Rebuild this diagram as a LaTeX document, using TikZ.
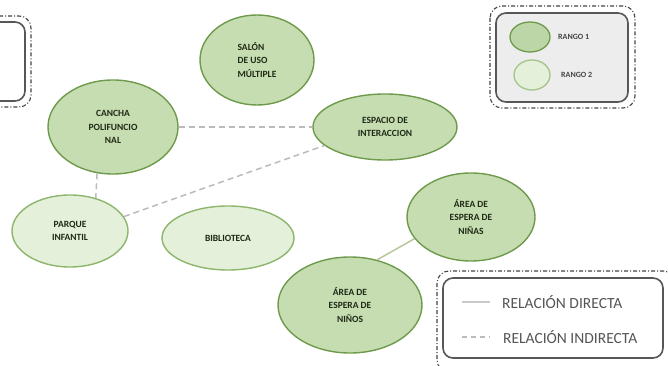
\documentclass[tikz,border=0pt]{standalone}
\usepackage{fontspec}
\usetikzlibrary{shapes.geometric}
\setmainfont{Carlito}
\definecolor{rIfill}{HTML}{C6DDB1}
\definecolor{rIdraw}{HTML}{6E9A4C}
\definecolor{rIIfill}{HTML}{E4F0D9}
\definecolor{rIIdraw}{HTML}{8DB56C}
\definecolor{txt}{HTML}{1F2A16}
\definecolor{relgray}{HTML}{BBBBBB}
\definecolor{dirline}{HTML}{B9C79C}
\definecolor{framec}{HTML}{444444}
\definecolor{legfill}{HTML}{EDEDED}
\definecolor{legtxt}{HTML}{555555}
\tikzset{
  zone/.style={ellipse, line width=1.4pt, text=txt, align=center,
    font=\bfseries\fontsize{9.5}{13.5}\selectfont, inner sep=0pt},
  rI/.style={zone, draw=rIdraw, fill=rIfill},
  rII/.style={zone, draw=rIIdraw, fill=rIIfill},
  indirect/.style={draw=relgray, line width=1.5pt, dash pattern=on 6pt off 4pt},
  direct/.style={draw=dirline, line width=1.5pt},
  legdirect/.style={draw=relgray!80, line width=1.2pt},
  outerframe/.style={draw=framec, line width=1.1pt, dash pattern=on 4pt off 2pt on 1pt off 2pt, rounded corners=12pt},
  innerframe/.style={draw=framec!90, line width=1.6pt, rounded corners=10pt},
  legtext/.style={anchor=west, text=legtxt, font=\fontsize{15.5}{17}\selectfont, inner sep=0pt},
  rangtext/.style={anchor=west, text=legtxt!80!black, font=\bfseries\fontsize{8}{10}\selectfont, inner sep=0pt}
}
\begin{document}
\begin{tikzpicture}[x=1pt,y=-1pt]
\useasboundingbox (0,0) rectangle (668,366);
\clip (0,0) rectangle (668,366);
% partial frame on the left
\draw[outerframe] (-30,16) rectangle (31,107);
\draw[innerframe, fill=white] (-30,22) rectangle (25,101);
% zones
\node[rI, minimum width=130pt, minimum height=94pt] (cancha) at (113,127) {CANCHA\\POLIFUNCIO\\NAL};
\node[rI, minimum width=114pt, minimum height=90pt, align=left] (salon) at (257,60) {SALÓN\\DE USO\\MÚLTIPLE};
\node[rI, minimum width=144pt, minimum height=66pt] (esp) at (385,127) {ESPACIO DE\\INTERACCION};
\node[rII, minimum width=116pt, minimum height=72pt] (parque) at (70,231) {PARQUE\\INFANTIL};
\node[rII, minimum width=132pt, minimum height=64pt] (biblio) at (228,238) {BIBLIOTECA};
\node[rI, minimum width=128pt, minimum height=88pt] (ninas) at (471,217) {ÁREA DE\\ESPERA DE\\NIÑAS};
\node[rI, minimum width=144pt, minimum height=96pt] (ninos) at (350,305) {ÁREA DE\\ESPERA DE\\NIÑOS};
% relations
\draw[indirect] (cancha.east) -- (esp.west);
\draw[indirect] (parque.15) -- (esp.197);
\draw[indirect] (cancha.251) -- (parque.52);
\draw[direct] (ninos.59) -- (ninas.201);
% legend: ranges
\draw[outerframe] (490,6) rectangle (635,108);
\draw[innerframe, fill=legfill] (496,13) rectangle (628,102);
\node[ellipse, draw=rIdraw, fill=rIfill!90!rIdraw, line width=1.3pt, minimum width=40pt, minimum height=30pt] (k1) at (530,37) {};
\node[ellipse, draw=rIIdraw!80, fill=rIIfill, line width=1.3pt, minimum width=36pt, minimum height=30pt] (k2) at (532,75) {};
\node[rangtext] (k1t) at (558,37) {RANGO 1};
\node[rangtext] (k2t) at (561,75) {RANGO 2};
% legend: relations
\draw[outerframe] (437,271) rectangle (675,372);
\draw[innerframe, fill=white] (443,278) rectangle (663,358);
\coordinate (da) at (462,302);
\coordinate (db) at (490,302);
\coordinate (ia) at (462,337);
\coordinate (ib) at (490,337);
\draw[legdirect] (da) -- (db);
\draw[indirect, line width=1.2pt, dash pattern=on 5pt off 4pt] (ia) -- (ib);
\node[legtext] (dt) at (502,302) {RELACIÓN DIRECTA};
\node[legtext] (it) at (503,337) {RELACIÓN INDIRECTA};
\end{tikzpicture}
\end{document}
